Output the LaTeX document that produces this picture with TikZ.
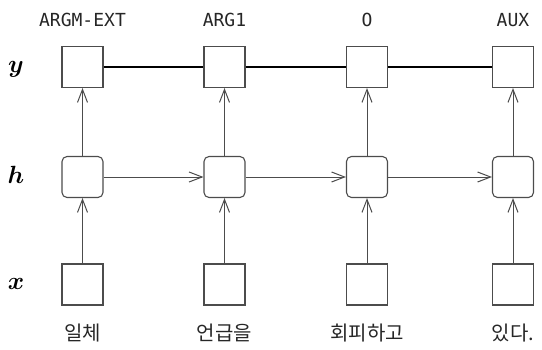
\documentclass[tikz,border=0pt]{standalone}
\usepackage{amsmath,bm}
\usepackage{fontspec}
\setmainfont{Noto Sans CJK KR}
\newfontfamily\tagfont{DejaVu Sans Mono}
\usetikzlibrary{arrows.meta}
\begin{document}
\begin{tikzpicture}[x=1pt,y=1pt,
  box/.style={draw=black!70,line width=1.1pt,minimum size=41pt,inner sep=0pt,fill=white},
  hbox/.style={box,rounded corners=5pt},
  arr/.style={draw=black!70,line width=1pt,-{Straight Barb[length=13pt,width=10pt,line width=1pt]}},
  tag/.style={font=\tagfont\fontsize{18}{18}\selectfont,text=black!85},
  word/.style={font=\fontsize{20}{20}\selectfont,text=black!85},
  row/.style={font=\fontsize{30}{30}\selectfont}]
\useasboundingbox (0,0) rectangle (542,349);
\foreach \i/\cx/\t/\w in {1/82.5/ARGM-EXT/일체, 2/224.5/ARG1/언급을, 3/367/O/회피하고, 4/513/AUX/있다.}{
  \node[box] (y\i) at (\cx,282) {};
  \node[hbox] (h\i) at (\cx,172) {};
  \node[box] (x\i) at (\cx,64.5) {};
  \node[tag] (t\i) at (\cx,329) {\t};
  \node[word] (w\i) at (\cx,16) {\w};
  \draw[arr] (x\i) -- (h\i);
  \draw[arr] (h\i) -- (y\i);
}
\draw[line width=1.8pt] (y1) -- (y2);
\draw[line width=1.8pt] (y2) -- (y3);
\draw[line width=1.8pt] (y3) -- (y4);
\draw[arr] (h1) -- (h2);
\draw[arr] (h2) -- (h3);
\draw[arr] (h3) -- (h4);
\node[row] (ly) at (16,280) {$\bm{y}$};
\node[row] (lh) at (16,174) {$\bm{h}$};
\node[row] (lx) at (16,65) {$\bm{x}$};
\end{tikzpicture}
\end{document}
